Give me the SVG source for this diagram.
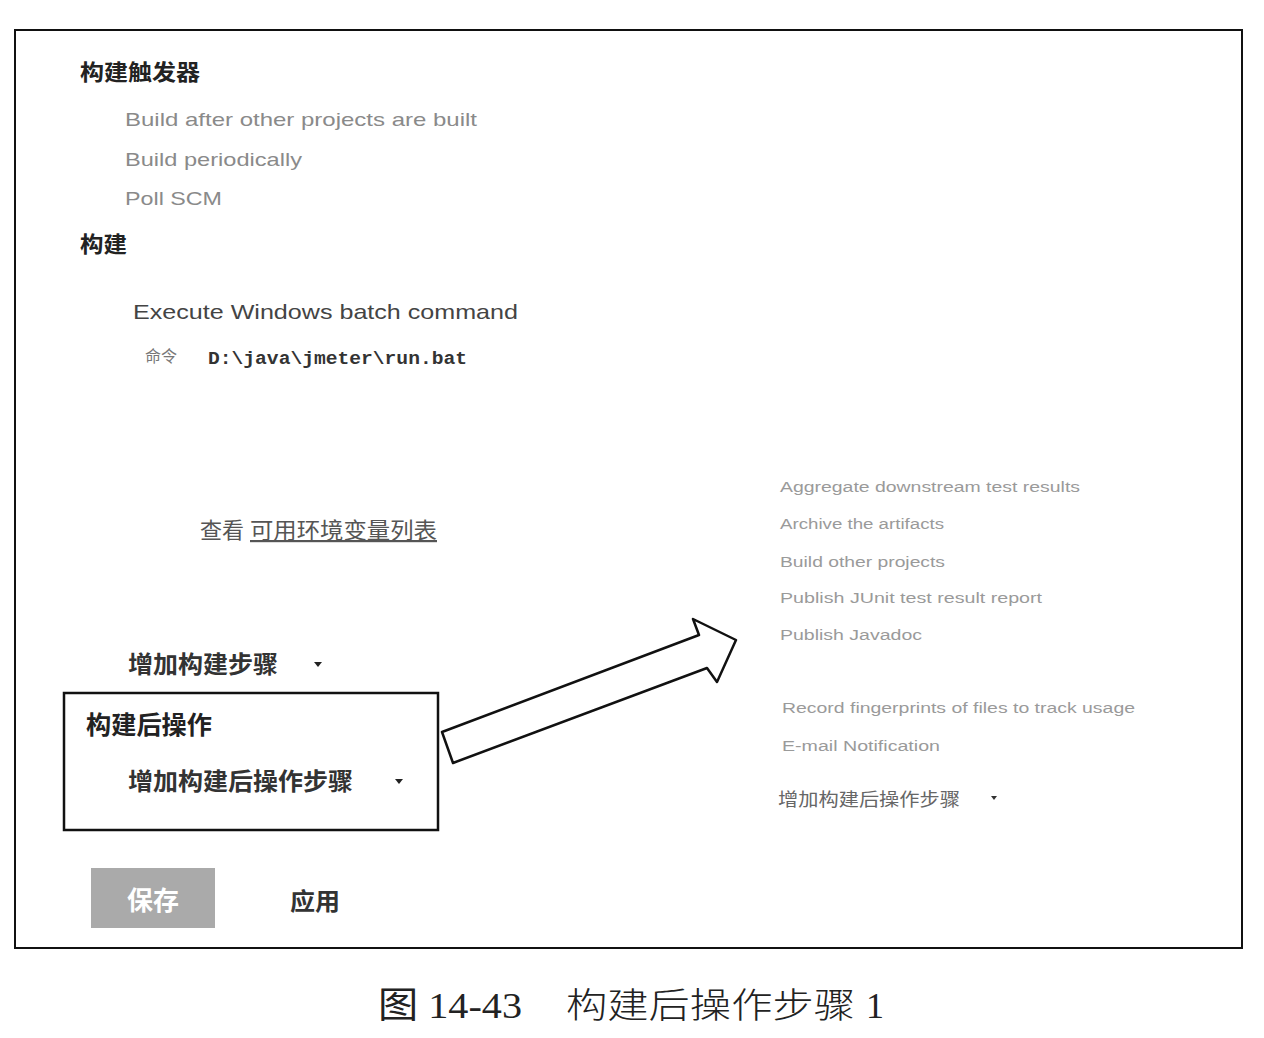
<svg xmlns="http://www.w3.org/2000/svg" width="1264" height="1038" viewBox="0 0 1264 1038">
<style>
.h{font-family:"Noto Sans CJK SC",sans-serif;font-weight:bold;fill:#222}
.en{font-family:"Liberation Sans",Arial,sans-serif;fill:#8a8a8a}
.sm{font-family:"Liberation Sans",Arial,sans-serif;fill:#9a9a9a;font-size:14px}
.cn{font-family:"Noto Sans CJK SC",sans-serif;fill:#444}
.tri{fill:#222}
</style>
<rect width="1264" height="1038" fill="#fff"/>
<rect x="15" y="30" width="1227" height="918" fill="none" stroke="#111" stroke-width="2"/>

<g id="trigger">
<text class="h" x="80" y="80" font-size="22" textLength="120" lengthAdjust="spacingAndGlyphs">构建触发器</text>
<text class="en" x="125" y="126" font-size="19" textLength="352" lengthAdjust="spacingAndGlyphs">Build after other projects are built</text>
<text class="en" x="125" y="166" font-size="19" textLength="177" lengthAdjust="spacingAndGlyphs">Build periodically</text>
<text class="en" x="125" y="205" font-size="19" textLength="97" lengthAdjust="spacingAndGlyphs">Poll SCM</text>
</g>

<g id="build">
<text class="h" x="80" y="252" font-size="22" textLength="47" lengthAdjust="spacingAndGlyphs">构建</text>
<text class="en" x="133" y="319" font-size="21" style="fill:#444" textLength="385" lengthAdjust="spacingAndGlyphs">Execute Windows batch command</text>
<text class="cn" x="145" y="362" font-size="16" style="fill:#777">命令</text>
<text x="208" y="364" font-family="Liberation Mono,monospace" font-weight="bold" font-size="18" fill="#333" textLength="259" lengthAdjust="spacingAndGlyphs">D:\java\jmeter\run.bat</text>
</g>

<g id="envlink">
<text class="cn" x="200" y="538" font-size="22" style="fill:#555">查看</text>
<text class="cn" x="250" y="538" font-size="22" style="fill:#555" text-decoration="underline" textLength="187" lengthAdjust="spacingAndGlyphs">可用环境变量列表</text>
</g>

<g id="addstep">
<text class="h" x="128" y="673" font-size="24" style="fill:#333" textLength="150" lengthAdjust="spacingAndGlyphs">增加构建步骤</text>
<path class="tri" d="M314 662 L322 662 L318 667 Z"/>
</g>

<g id="post">
<rect x="64" y="693" width="374" height="137" fill="#fff" stroke="#111" stroke-width="2.5"/>
<text class="h" x="86" y="734" font-size="25" textLength="126" lengthAdjust="spacingAndGlyphs">构建后操作</text>
<text class="h" x="128" y="790" font-size="24" style="fill:#333" textLength="225" lengthAdjust="spacingAndGlyphs">增加构建后操作步骤</text>
<path class="tri" d="M395 779 L403 779 L399 784 Z"/>
</g>

<g id="connectors">
<polygon points="442,732 699,635 693,619 736,640 717,682 707,668 453,763" fill="#fff" stroke="#111" stroke-width="2.5" stroke-linejoin="round"/>
</g>

<g id="postlist">
<text class="sm" x="780" y="492" textLength="300" lengthAdjust="spacingAndGlyphs">Aggregate downstream test results</text>
<text class="sm" x="780" y="529" textLength="164" lengthAdjust="spacingAndGlyphs">Archive the artifacts</text>
<text class="sm" x="780" y="567" textLength="165" lengthAdjust="spacingAndGlyphs">Build other projects</text>
<text class="sm" x="780" y="603" textLength="262" lengthAdjust="spacingAndGlyphs">Publish JUnit test result report</text>
<text class="sm" x="780" y="640" textLength="142" lengthAdjust="spacingAndGlyphs">Publish Javadoc</text>
<text class="sm" x="782" y="713" textLength="353" lengthAdjust="spacingAndGlyphs">Record fingerprints of files to track usage</text>
<text class="sm" x="782" y="751" textLength="158" lengthAdjust="spacingAndGlyphs">E-mail Notification</text>
<text class="cn" x="778" y="806" font-size="18" style="fill:#666" textLength="182" lengthAdjust="spacingAndGlyphs">增加构建后操作步骤</text>
<path d="M991 796 L997 796 L994 800 Z" fill="#333"/>
</g>

<g id="buttons">
<rect x="91" y="868" width="124" height="60" fill="#aaa"/>
<text class="h" x="153" y="910" font-size="26" text-anchor="middle" style="fill:#fff">保存</text>
<text class="h" x="290" y="910" font-size="24" style="fill:#333" textLength="50" lengthAdjust="spacingAndGlyphs">应用</text>
</g>

<g id="caption">
<text x="378" y="1018" font-family="Liberation Serif,'Noto Sans CJK SC',serif" font-size="36" fill="#222" textLength="144" lengthAdjust="spacingAndGlyphs">图 14-43</text>
<text x="566" y="1018" font-family="'Noto Sans CJK SC',sans-serif" font-weight="300" font-size="35" fill="#222" textLength="289" lengthAdjust="spacingAndGlyphs">构建后操作步骤</text>
<text x="866" y="1018" font-family="Liberation Serif,serif" font-size="36" fill="#222">1</text>
</g>
</svg>
